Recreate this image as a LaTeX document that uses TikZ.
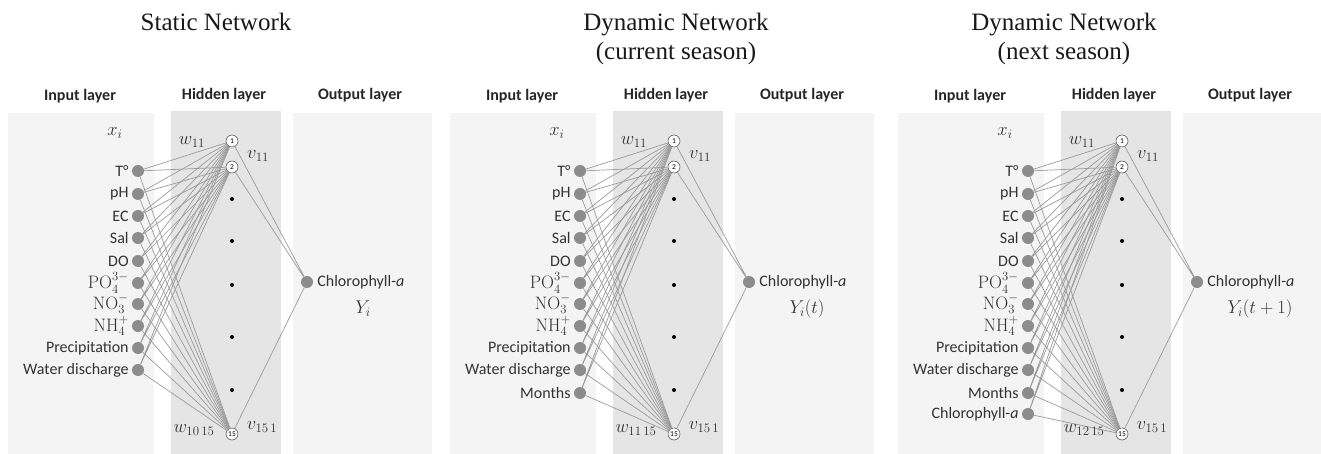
\RequirePackage{fix-cm}
\documentclass[tikz,border=0pt]{standalone}
\usepackage{amsmath}
\usepackage{fontspec}
\newfontfamily\labelfont{Carlito}
\newfontfamily\titlefont{Liberation Serif}

\definecolor{paneback}{RGB}{244,244,244}
\definecolor{hiddenback}{RGB}{229,229,229}
\definecolor{dotgray}{RGB}{140,140,140}
\definecolor{wiregray}{RGB}{155,155,155}

\newcommand\chem[1]{{\fontsize{18}{18}\selectfont$#1$}}

\begin{document}
\begin{tikzpicture}[x=1pt, y=-1pt,
		inp/.style={circle, fill=dotgray, minimum size=12pt, inner sep=0pt},
		hid/.style={circle, draw=black!75, fill=white, line width=0.5pt, minimum size=12pt, inner sep=0pt, font=\labelfont\fontsize{7.5}{7.5}\selectfont},
		blob/.style={circle, fill=black, minimum size=4pt, inner sep=0pt},
		wire/.style={draw=wiregray, line width=0.7pt},
		lab/.style={font=\labelfont\fontsize{16}{18}\selectfont, text=black!80, inner sep=1pt},
		mlab/.style={font=\fontsize{18.5}{20}\selectfont, text=black!80, inner sep=1pt},
		head/.style={font=\labelfont\bfseries\fontsize{16}{18}\selectfont, text=black!85},
		title/.style={font=\titlefont\fontsize{25}{30}\selectfont, text=black!90, anchor=base}]

	\useasboundingbox (0,0) rectangle (1321,454);

	% titles
	\node [title] (t-static) at (216,31) {Static Network};
	\node [title] (t-cur) at (676,31) {Dynamic Network};
	\node [title] (t-cur2) at (676,60) {(current season)};
	\node [title] (t-next) at (1064,31) {Dynamic Network};
	\node [title] (t-next2) at (1064,60) {(next season)};

	% one panel per network
	\foreach \p/\off/\n/\wl/\yl/\yx in {a/0/10/{10\,15}/{Y_i}/363, b/442/11/{11\,15}/{Y_i(t)}/365, c/890/12/{12\,15}/{Y_i(t+1)}/370} {
		\begin{scope}[xshift=\off]
			\fill [paneback] (8,113) rectangle (154,454);
			\fill [hiddenback] (171,111) rectangle (281,454);
			\fill [paneback] (293,113) rectangle (432,454);

			\node [head] (\p-headin) at (80,96) {Input layer};
			\node [head] (\p-headhid) at (224,95) {Hidden layer};
			\node [head] (\p-headout) at (360,95) {Output layer};

			\node [hid] (\p-h1) at (232,141) {1};
			\node [hid] (\p-h2) at (232,167) {2};
			\node [hid] (\p-h15) at (232,434) {15};
			\foreach \y [count=\j] in {199,241,285,337,390}
				\node [blob] (\p-dot\j) at (232,\y) {};

			\node [inp] (\p-out) at (307,282) {};

			\foreach \k/\y/\txt in {1/171/{T°}, 2/194/pH, 3/216/EC, 4/238/Sal, 5/261/DO,
					6/283/{\chem{\mathrm{PO}_4^{3-}}}, 7/304/{\chem{\mathrm{NO}_3^-}}, 8/326/{\chem{\mathrm{NH}_4^+}},
					9/348/Precipitation, 10/370/{Water discharge}, 11/393/Months, 12/414/{Chlorophyll-\textit{a}}} {
				\ifnum\k>\n\relax\else
					\node [inp, label={[lab, label distance=2pt]left:\txt}] (\p-in\k) at (138,\y) {};
					\draw [wire] (\p-in\k) -- (\p-h1) (\p-in\k) -- (\p-h2) (\p-in\k) -- (\p-h15);
				\fi
			}

			\draw [wire] (\p-h1) -- (\p-out) (\p-h2) -- (\p-out) (\p-h15) -- (\p-out);

			\node [mlab] (\p-xi) at (115,133) {$x_i$};
			\node [mlab] (\p-w11) at (192,142) {$w_{11}$};
			\node [mlab] (\p-v11) at (258,156) {$v_{11}$};
			\node [mlab] (\p-wlast) at (194,430) {$w_{\wl}$};
			\node [mlab] (\p-vlast) at (262,427) {$v_{15\,1}$};
			\node [lab, anchor=west] (\p-outlab) at ([xshift=3pt]\p-out.east) {Chlorophyll-\textit{a}};
			\node [mlab] (\p-ylab) at (\yx,309) {$\yl$};
		\end{scope}
	}
\end{tikzpicture}
\end{document}
